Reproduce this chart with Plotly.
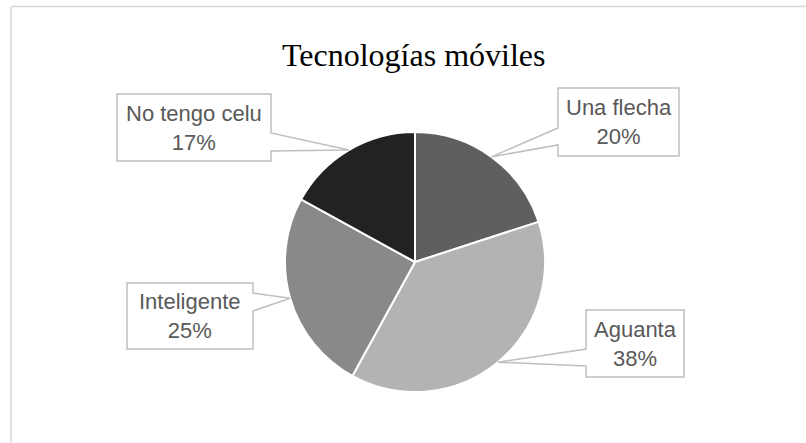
import math
import plotly.graph_objects as go

labels = ["Una flecha", "Aguanta", "Inteligente", "No tengo celu"]
values = [20, 38, 25, 17]
colors = ["#5f5f5f", "#b3b3b3", "#898989", "#222222"]
title_text = "Tecnologías móviles"

W, H = 806, 443
CX, CY, R = 415, 262, 130  # pie center / radius in pixels


def px(x):
    return x / W


def py(y):
    return 1 - y / H


# callout boxes: (left, top, right, bottom, side of pointer, pointer base y1, y2)
boxes = [
    (558, 88, 679, 156, "left", 128, 145),
    (586, 310, 684, 377, "left", 349, 366),
    (127, 283, 253, 349, "right", 293, 311),
    (117, 94, 271, 161, "right", 133, 151),
]

fig = go.Figure()
fig.add_trace(go.Pie(
    labels=labels,
    values=values,
    sort=False,
    direction="clockwise",
    rotation=0,
    marker=dict(colors=colors, line=dict(color="white", width=2)),
    textinfo="none",
    hoverinfo="label+percent",
    showlegend=False,
    domain=dict(x=[px(CX - R), px(CX + R)], y=[py(CY + R), py(CY - R)]),
))

total = sum(values)
shapes = []
annotations = []
cum = 0
for lab, v, b in zip(labels, values, boxes):
    mid = (cum + v / 2) / total * 2 * math.pi
    cum += v
    tx = CX + R * math.sin(mid)
    ty = CY - R * math.cos(mid)
    l, t, r, btm, side, p1, p2 = b
    if side == "left":
        pts = [(l, t), (r, t), (r, btm), (l, btm), (l, p2), (tx, ty), (l, p1)]
    else:
        pts = [(l, t), (r, t), (r, p1), (tx, ty), (r, p2), (r, btm), (l, btm)]
    path = "M " + " L ".join(f"{px(x):.5f},{py(y):.5f}" for x, y in pts) + " Z"
    shapes.append(dict(type="path", xref="paper", yref="paper", path=path,
                       fillcolor="white", line=dict(color="#bfbfbf", width=1.5)))
    pct = round(v / total * 100)
    annotations.append(dict(
        x=px((l + r) / 2), y=py((t + btm) / 2), xref="paper", yref="paper",
        xanchor="center", yanchor="middle", showarrow=False,
        text=f"{lab}<br>{pct}%",
        font=dict(family="Liberation Sans, Arial, sans-serif", size=22, color="#595959"),
    ))

annotations.append(dict(
    x=px(414), y=py(55), xref="paper", yref="paper", xanchor="center", yanchor="middle",
    showarrow=False, text=title_text,
    font=dict(family="Liberation Serif, Times New Roman, serif", size=32, color="#000000"),
))

# outer frame (top and left edges visible)
shapes.append(dict(type="line", xref="paper", yref="paper", x0=px(11), x1=1, y0=py(6.5), y1=py(6.5),
                   line=dict(color="#d9d9d9", width=1.5)))
shapes.append(dict(type="line", xref="paper", yref="paper", x0=px(11), x1=px(11), y0=py(6.5), y1=0,
                   line=dict(color="#d9d9d9", width=1.5)))

fig.update_layout(
    width=W, height=H, autosize=False,
    margin=dict(l=0, r=0, t=0, b=0),
    paper_bgcolor="white", plot_bgcolor="white",
    shapes=shapes, annotations=annotations,
)

fig.write_html("out.html", config={"displayModeBar": False},
               post_script="document.body.style.margin='0';")
